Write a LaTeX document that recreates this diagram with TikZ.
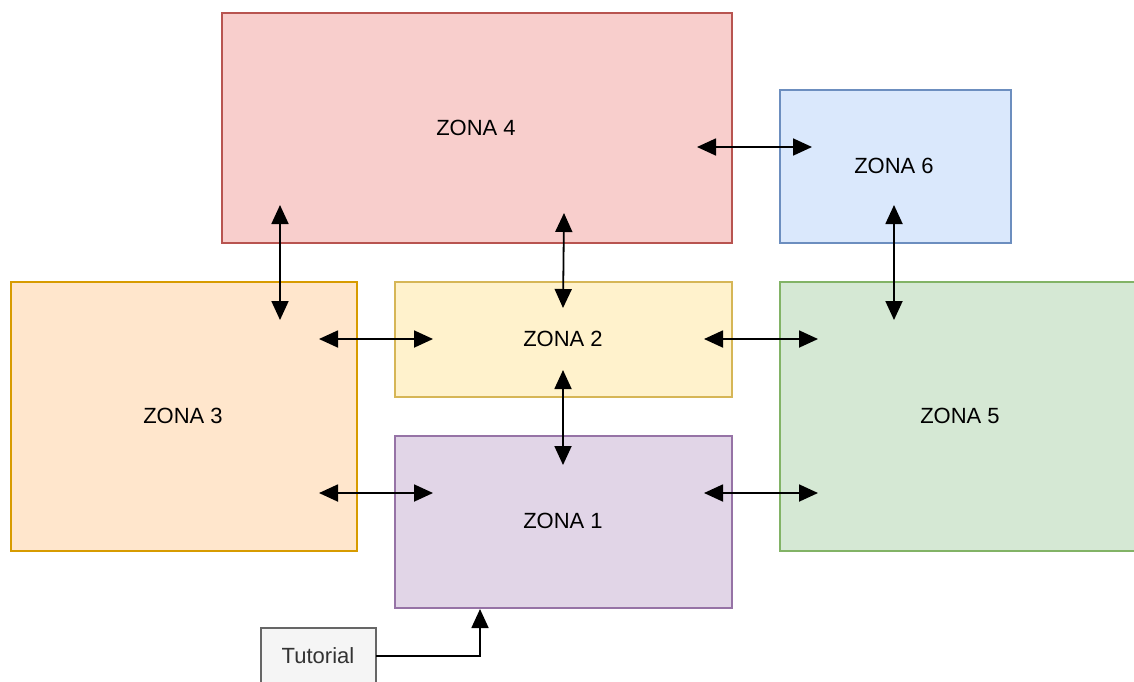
\documentclass[tikz,border=0pt]{standalone}
\usepackage{fontspec}
\setmainfont{Liberation Sans}
\usetikzlibrary{arrows.meta}
\definecolor{redF}{HTML}{F8CECC}\definecolor{redD}{HTML}{B85450}
\definecolor{blueF}{HTML}{DAE8FC}\definecolor{blueD}{HTML}{6C8EBF}
\definecolor{orangeF}{HTML}{FFE6CC}\definecolor{orangeD}{HTML}{D79B00}
\definecolor{yellowF}{HTML}{FFF2CC}\definecolor{yellowD}{HTML}{D6B656}
\definecolor{greenF}{HTML}{D5E8D4}\definecolor{greenD}{HTML}{82B366}
\definecolor{purpleF}{HTML}{E1D5E7}\definecolor{purpleD}{HTML}{9673A6}
\definecolor{grayF}{HTML}{F5F5F5}\definecolor{grayD}{HTML}{666666}
\definecolor{txtG}{HTML}{333333}
\tikzset{
  zone/.style={line width=1.3pt},
  lbl/.style={font=\fontsize{22}{26}\selectfont, text=black},
  tip/.style={Triangle[length=19pt,width=17pt]},
  biarrow/.style={line width=1.8pt, {Triangle[length=19pt,width=17pt]}-{Triangle[length=19pt,width=17pt]}},
  onearrow/.style={line width=1.8pt, -{Triangle[length=19pt,width=17pt]}},
}
\begin{document}
\begin{tikzpicture}[x=1pt,y=-1pt]
\useasboundingbox (0,0) rectangle (1134,681);
\begin{scope}
\clip (0,0) rectangle (1134,681);
% zones
\draw[zone, fill=redF, draw=redD] (222,13) rectangle (732,243);
\draw[zone, fill=blueF, draw=blueD] (780,90) rectangle (1011,243);
\draw[zone, fill=orangeF, draw=orangeD] (11,282) rectangle (357,551);
\draw[zone, fill=yellowF, draw=yellowD] (395,282) rectangle (732,397);
\draw[zone, fill=greenF, draw=greenD] (780,282) rectangle (1140,551);
\draw[zone, fill=purpleF, draw=purpleD] (395,436) rectangle (732,608);
\draw[zone, fill=grayF, draw=grayD] (261,628) rectangle (376,690);
\end{scope}
% labels
\node[lbl] (z4) at (476,128) {ZONA 4};
\node[lbl] (z6) at (894,166) {ZONA 6};
\node[lbl] (z3) at (183,416) {ZONA 3};
\node[lbl] (z2) at (563,339) {ZONA 2};
\node[lbl] (z5) at (960,416) {ZONA 5};
\node[lbl] (z1) at (563,521) {ZONA 1};
\node[lbl, text=txtG] (tut) at (318,656) {Tutorial};
% arrow endpoints
\coordinate (a1) at (697,147); \coordinate (b1) at (812,147);
\coordinate (a2) at (280,205); \coordinate (b2) at (280,320);
\coordinate (a3) at (564,213); \coordinate (b3) at (563,308);
\coordinate (a4) at (894,205); \coordinate (b4) at (894,320);
\coordinate (a5) at (319,339); \coordinate (b5) at (433,339);
\coordinate (a6) at (704,339); \coordinate (b6) at (818,339);
\coordinate (a7) at (563,370); \coordinate (b7) at (563,465);
\coordinate (a8) at (319,493); \coordinate (b8) at (433,493);
\coordinate (a9) at (704,493); \coordinate (b9) at (818,493);
\coordinate (tr) at (376,656); \coordinate (z1b) at (480,609);
\foreach \i in {1,...,9}{\draw[biarrow] (a\i) -- (b\i);}
\draw[onearrow] (tr) -| (z1b);
\end{tikzpicture}
\end{document}
